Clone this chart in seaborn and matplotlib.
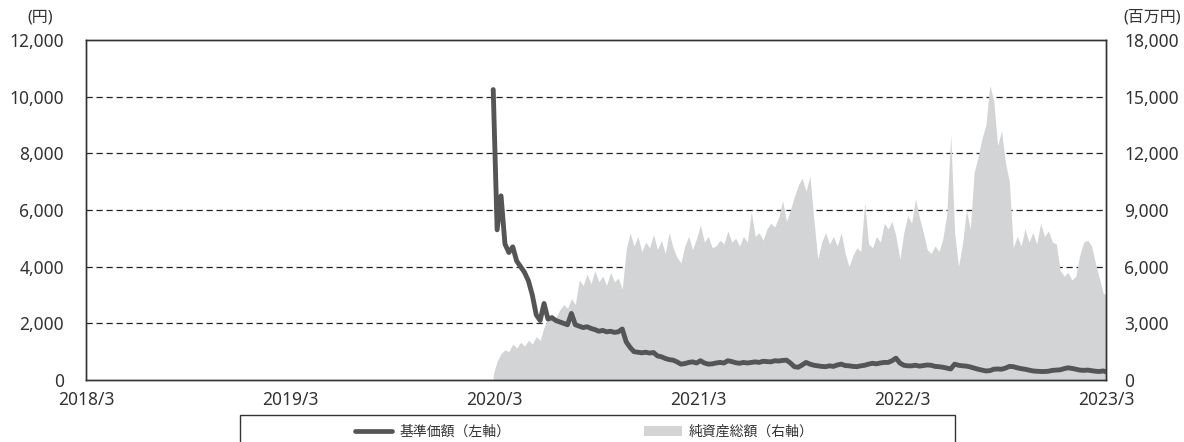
import numpy as np
import pandas as pd
import matplotlib
matplotlib.use("Agg")
import matplotlib.pyplot as plt
from matplotlib.patches import Rectangle, Patch
from matplotlib.lines import Line2D
import seaborn as sns

# ---------------- data ----------------
start_date = "2020-02-28"          # first weekly observation
end_date = "2023-03-01"            # last observation (month end)

nav_yen = [10250, 5300, 6500, 4800, 4500, 4700, 4200, 4000, 3800, 3500,
           3000, 2300, 2100, 2700, 2150, 2200, 2100, 2050, 2000, 1950,
           2350, 1950, 1900, 1850, 1880, 1820, 1780, 1720, 1750, 1700,
           1720, 1680, 1700, 1800, 1350, 1150, 1000, 980, 960, 980,
           950, 970, 850, 820, 760, 720, 700, 640, 560, 580,
           620, 640, 600, 680, 600, 560, 570, 600, 620, 600,
           680, 650, 610, 590, 620, 600, 620, 640, 620, 660,
           650, 640, 680, 670, 690, 700, 600, 470, 450, 530,
           620, 560, 520, 500, 480, 470, 500, 480, 530, 560,
           510, 500, 480, 470, 500, 520, 560, 590, 570, 600,
           620, 620, 680, 770, 600, 520, 500, 500, 520, 490,
           510, 530, 520, 480, 470, 450, 420, 390, 560, 520,
           500, 490, 460, 420, 380, 350, 320, 330, 380, 390,
           380, 420, 480, 470, 430, 400, 380, 350, 320, 310,
           300, 300, 310, 340, 350, 360, 400, 430, 410, 380,
           350, 340, 350, 330, 310, 300, 320, 290]

net_assets_mil = [300, 1000, 1400, 1600, 1500, 1900, 1700, 2000, 1800, 2100,
                  1900, 2300, 2100, 2800, 3200, 3500, 3300, 3700, 4000, 3800,
                  4300, 4000, 5300, 5000, 5600, 5100, 5800, 5200, 5500, 5000,
                  5700, 5200, 5400, 4800, 6900, 7800, 7100, 7600, 6800, 7300,
                  7000, 7700, 6900, 7400, 6700, 7800, 7000, 6500, 6200, 7100,
                  7600, 6900, 7500, 8200, 7300, 7600, 7000, 7100, 7400, 7200,
                  7900, 7300, 7500, 7100, 7600, 7300, 8900, 7600, 7800, 7400,
                  8000, 8300, 8100, 8600, 9500, 8400, 9000, 9700, 10300, 10700,
                  10000, 10800, 8500, 6400, 7300, 7800, 7200, 7600, 7100, 7800,
                  6700, 6000, 6600, 7000, 6800, 9400, 7200, 7000, 7600, 7300,
                  8300, 8000, 8400, 7600, 6400, 7800, 8700, 8300, 9600, 8600,
                  7800, 6900, 6700, 7100, 6800, 7500, 8800, 13000, 7800, 6000,
                  7200, 9000, 8000, 11000, 11800, 12800, 13500, 15600, 14800, 12400,
                  13200, 11500, 10500, 7000, 7600, 7100, 8000, 7300, 7800, 7200,
                  8300, 7600, 7900, 7300, 7200, 5800, 5500, 5700, 5300, 5500,
                  6600, 7300, 7400, 7100, 6200, 5400, 4600, 4500]

x_tick_dates = ["2018-03-01", "2019-03-01", "2020-03-01", "2021-03-01",
                "2022-03-01", "2023-03-01"]
x_tick_labels = ["2018/3", "2019/3", "2020/3", "2021/3", "2022/3", "2023/3"]
left_ticks = [0, 2000, 4000, 6000, 8000, 10000, 12000]
right_ticks = [0, 3000, 6000, 9000, 12000, 15000, 18000]
label_nav = "基準価額（左軸）"
label_assets = "純資産総額（右軸）"

# dates: weekly from start, plus month-end final point
n_weekly = len(nav_yen) - 1
dates = list(pd.date_range(start_date, periods=n_weekly, freq="7D")) + [pd.Timestamp(end_date)]
df = pd.DataFrame({"date": dates, "nav": nav_yen, "assets": net_assets_mil})

# ---------------- style ----------------
sns.set_theme(style="white")
plt.rcParams["font.family"] = ["Noto Sans", "Noto Sans CJK JP", "DejaVu Sans"]
TXT = "#333333"
LINE_C = "#555555"
AREA_C = "#d3d4d6"
FS = 12.5

fig = plt.figure(figsize=(11.84, 4.42), dpi=100)
ax = fig.add_axes([86/1184, 1 - 380/442, (1106-86)/1184, (380-40)/442])  # assets axis (right)
ax2 = ax.twinx()                                                         # nav axis (left)

# area (net assets) on ax, right-side scale
ax.fill_between(df["date"], 0, df["assets"], color=AREA_C, lw=0, zorder=1)
ax.set_ylim(0, 18000)
ax.set_yticks(right_ticks)
ax.set_yticklabels([f"{v:,}" for v in right_ticks])
ax.yaxis.tick_right()
ax.set_axisbelow(True)
ax.yaxis.grid(True, color="#222222", lw=0.9, ls=(0, (5, 3)))
ax.xaxis.grid(False)

# line (NAV) on ax2, left-side scale
sns.lineplot(data=df, x="date", y="nav", ax=ax2, color=LINE_C, lw=3.5, zorder=3)
ax2.set_ylim(0, 12000)
ax2.set_yticks(left_ticks)
ax2.set_yticklabels([f"{v:,}" for v in left_ticks])
ax2.yaxis.tick_left()
ax2.set_ylabel("")
ax2.set_xlabel("")
ax.set_xlabel("")
ax.set_ylabel("")

xt = [pd.Timestamp(d) for d in x_tick_dates]
ax.set_xlim(xt[0], xt[-1])
ax2.set_xlim(xt[0], xt[-1])
ax.set_xticks(xt)
ax.set_xticklabels(x_tick_labels)

ax.tick_params(axis="x", direction="in", length=7, width=0.9, color="#333333",
               labelsize=FS, labelcolor=TXT, pad=8)
ax.tick_params(axis="y", length=0, labelsize=FS, labelcolor=TXT, pad=13)
ax2.tick_params(axis="y", length=0, labelsize=FS, labelcolor=TXT, pad=16)
ax2.tick_params(axis="x", length=0, labelbottom=False)

for a in (ax, ax2):
    for s in a.spines.values():
        s.set_color("#333333")
        s.set_linewidth(1.0)

fig.canvas.draw()
gl = ax.yaxis.get_gridlines()
gl[0].set_visible(False)
gl[-1].set_visible(False)

# unit labels
fig.text(40/1184, 1 - 18/442, "(円)", ha="center", va="center", fontsize=11.5, color=TXT)
fig.text(1152/1184, 1 - 18/442, "(百万円)", ha="center", va="center", fontsize=11.5, color=TXT)

# legend
handles = [Line2D([0], [0], color=LINE_C, lw=3.4),
           Patch(facecolor=AREA_C, edgecolor="none")]
fig.legend(handles, [label_nav, label_assets], loc="center", ncol=2,
           bbox_to_anchor=(584/1184, 1 - 432/442), frameon=False,
           fontsize=10, handlelength=2.73, handletextpad=0.5, columnspacing=9.6,
           labelcolor=TXT)
fig.patches.append(Rectangle((240/1184, -0.1), (955-240)/1184, 0.1 + (442-415)/442,
                             transform=fig.transFigure, fill=False,
                             edgecolor="#333333", lw=1.0))

fig.savefig("out.png", dpi=100)
